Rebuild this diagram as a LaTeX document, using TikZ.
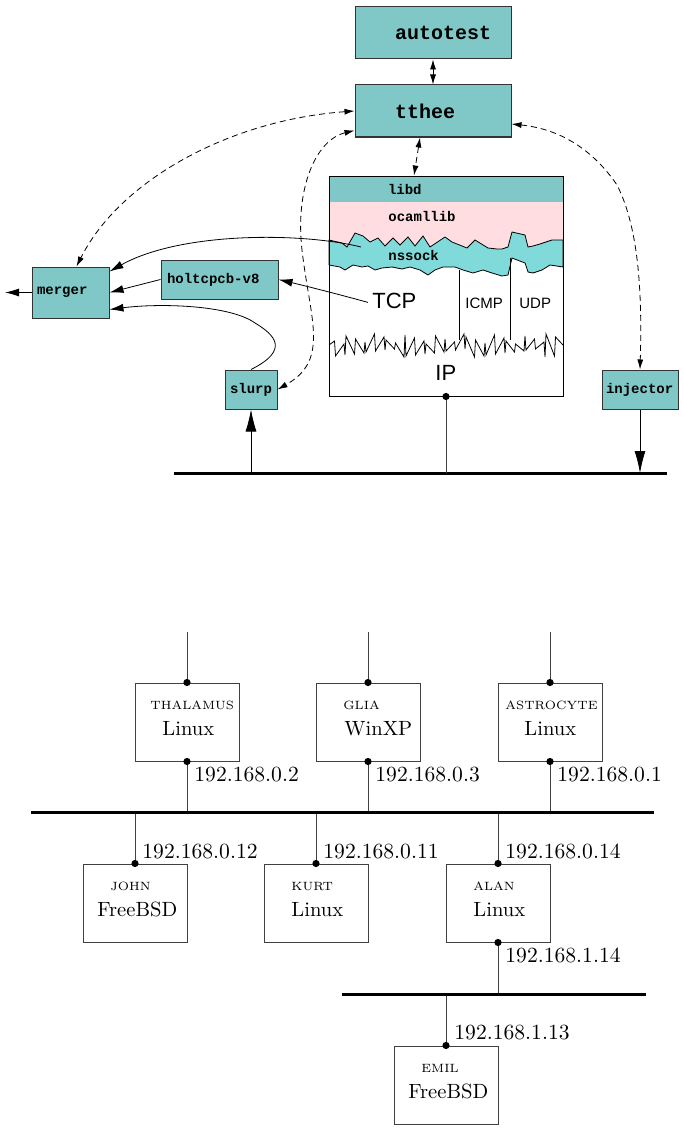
\documentclass[tikz,border=0pt]{standalone}
\usepackage{fontspec}
\setmonofont{Liberation Mono}
\newfontfamily\stackfont{Liberation Sans}
\usepackage{tikz}
\usetikzlibrary{arrows.meta,calc}
\definecolor{boxteal}{HTML}{80C8C8}
\definecolor{nscyan}{HTML}{80DADA}
\definecolor{libpink}{HTML}{FFDDE0}

\begin{document}
\begin{tikzpicture}[x=0.5pt,y=-0.5pt]
\tikzset{
  tool/.style={draw=black!80, fill=boxteal, line width=0.5pt, align=left,
    font=\ttfamily\bfseries\fontsize{7}{8}\selectfont, inner xsep=2.5pt, inner ysep=0pt},
  bigtool/.style={tool, font=\ttfamily\bfseries\fontsize{10}{12}\selectfont,
    inner xsep=20pt, text width=38pt, minimum height=26pt},
  stacktt/.style={anchor=base west, inner sep=0pt, font=\ttfamily\bfseries\fontsize{7}{8}\selectfont},
  stacksans/.style={anchor=base west, inner sep=0pt, font=\stackfont\fontsize{7.5}{9}\selectfont},
  dashlink/.style={dash pattern=on 3pt off 2pt, {Latex[length=5pt,width=3pt]}-{Latex[length=5pt,width=3pt]}},
  flow/.style={-{Latex[length=7pt,width=4pt]}},
  tap/.style={-{Latex[length=11pt,width=5.5pt]}},
  bus/.style={line width=1.5pt},
  host/.style={draw=black!75, line width=0.5pt, minimum width=52pt, minimum height=39pt},
  hname/.style={anchor=base west, inner sep=0pt, font=\fontsize{6}{7}\selectfont},
  hos/.style={anchor=base west, inner sep=0pt, font=\fontsize{10.3}{12}\selectfont},
  addr/.style={anchor=base west, inner sep=0pt, font=\fontsize{10.8}{13}\selectfont},
  wire/.style={draw=black!75, line width=0.5pt}
}
\useasboundingbox (0,0) rectangle (684,1129);

% Tools
\node[bigtool] (autotest) at (433,33) {autotest};
\node[bigtool] (tthee) at (433,111) {tthee};
\node[tool, text width=33.5pt, minimum height=25.5pt] (merger) at (70.5,292.5) {merger};
\node[tool, inner xsep=3pt, text width=52.5pt, minimum height=19.5pt] (holtcpcb) at (219.5,279.5) {holtcpcb-v8};
\node[tool, text width=21pt, minimum height=19.5pt] (slurp) at (251,389.5) {slurp};
\node[tool, inner xsep=2pt, text width=34pt, minimum height=19.5pt] (injector) at (640,389.5) {injector};

% Stack
\node[tool, inner xsep=29.5pt, text width=58pt, minimum height=13pt] (libd) at (446,189) {libd};
\fill[libpink] (329,202) rectangle (563,250);
\filldraw[fill=nscyan, line width=0.4pt] (329,240) -- (342,243) -- (347,247) -- (355,233) -- (363,236)
  -- (370,242) -- (378,238) -- (385,246) -- (393,238) -- (400,245) -- (408,237) -- (415,246)
  -- (423,236) -- (430,247) -- (445,237) -- (452,242) -- (467,248) -- (475,240) -- (488,248)
  -- (497,249) -- (502,249) -- (508,247) -- (512,232) -- (525,235) -- (528,247) -- (533,246)
  -- (540,244) -- (552,240) -- (563,240) -- (563,267) -- (550,265) -- (542,270) -- (533,273)
  -- (528,272) -- (525,263) -- (512,258) -- (508,275) -- (502,276) -- (492,273) -- (483,270)
  -- (473,273) -- (463,270) -- (455,267) -- (443,267) -- (435,270) -- (428,275) -- (420,270)
  -- (410,267) -- (402,269) -- (392,267) -- (382,268) -- (375,270) -- (368,266) -- (362,267)
  -- (353,265) -- (345,270) -- (340,267) -- (329,265) -- cycle;
\draw[line width=0.4pt] (459,270) -- (459,340);
\draw[line width=0.4pt] (510,258) -- (510,340);
% IP boundary, spiky
\draw[line width=0.4pt] (329,345) \foreach \i in {1,...,57}
  { -- ({329+4*\i+1.5*(mod(3*\i,5)-2)}, {mod(\i,2)==1 ? 334+mod(7*\i,11) : 357-mod(5*\i,9)}) }
  -- (563,345);
\node[draw, line width=0.5pt, minimum width=117pt, minimum height=110pt] (stack) at (446,286) {};
\node[stacktt] (ocamllib) at (388,221) {ocamllib};
\node[stacktt] (nssock) at (388,260) {nssock};
\node[stacksans, font=\stackfont\fontsize{11}{13}\selectfont] (tcp) at (372,308) {TCP};
\node[stacksans] (icmp) at (465,308) {ICMP};
\node[stacksans] (udp) at (519,308) {UDP};
\node[stacksans, font=\stackfont\fontsize{11}{13}\selectfont] (iplayer) at (435,380) {IP};

% Control links
\draw[dashlink] (autotest.south) -- (tthee.north);
\draw[dashlink] ($(tthee.south)+(-13,0)$) -- ($(libd.north)+(-32,0)$);
\draw[dashlink] (tthee.west) .. controls (230,120) and (120,180) .. ($(merger.north)+(6,0)$);
\draw[dashlink] ($(tthee.south west)+(0,-7)$) .. controls (315,140) and (295,190) .. (302,250)
  .. controls (310,320) and (330,360) .. (slurp.east);
\draw[dashlink] ($(tthee.east)+(0,13)$) .. controls (570,130) and (600,160) .. (617,185)
  .. controls (640,230) and (642,300) .. (injector.north);

% Data flow
\coordinate (nsout) at (361,247);
\coordinate (mergerout) at (5,292.5);
\draw[flow] (nsout) .. controls (300,232) and (180,232) .. ($(merger.north east)+(0,5)$);
\draw[flow] ($(tcp.west)+(-4,2)$) .. controls (345,296) and (310,287) .. (holtcpcb.east);
\draw[flow] (holtcpcb.west) -- (merger.east);
\draw[flow] (slurp.north) .. controls (290,350) and (275,335) .. (255,323)
  .. controls (230,305) and (160,303) .. ($(merger.east)+(0,17)$);
\draw[flow] (merger.west) -- (mergerout);

% Wire under test
\coordinate (busTw) at (174,473);
\coordinate (busTe) at (667,473);
\draw[bus] (busTw) -- (busTe);
\draw[tap] (slurp.south |- busTw) -- (slurp.south);
\draw[tap] (injector.south) -- (injector.south |- busTw);
\draw[wire] (stack.south) -- (stack.south |- busTw);
\fill (stack.south) circle (1.8pt);

% Hosts
\foreach \n/\cx/\cy/\name/\nx/\os/\ox in {
  thalamus/187/722/THALAMUS/150/Linux/162,
  glia/368/722/GLIA/343/WinXP/344,
  astrocyte/550/722/ASTROCYTE/505/Linux/524,
  john/135/903/JOHN/110/FreeBSD/97,
  kurt/316/903/KURT/291/Linux/291,
  alan/498/903/ALAN/473/Linux/473,
  emil/446/1085/EMIL/421/FreeBSD/408}
{
  \node[host] (\n) at (\cx,\cy) {};
  \node[hname] (\n-name) at (\nx,\cy-13) {\name};
  \node[hos] (\n-os) at (\ox,\cy+13) {\os};
}

% Networks
\coordinate (feedtop) at (0,632);
\coordinate (busAw) at (31,812);
\coordinate (busAe) at (654,812);
\coordinate (busBw) at (342,994);
\coordinate (busBe) at (646,994);
\foreach \n in {thalamus,glia,astrocyte}{
  \draw[wire] (\n.north) -- (\n.north |- feedtop);
  \draw[wire] (\n.south) -- (\n.south |- busAw);
  \fill (\n.north) circle (1.8pt);
  \fill (\n.south) circle (1.8pt);
}
\foreach \n in {john,kurt,alan}{
  \draw[wire] (\n.north) -- (\n.north |- busAw);
  \fill (\n.north) circle (1.8pt);
}
\draw[wire] (alan.south) -- (alan.south |- busBw);
\fill (alan.south) circle (1.8pt);
\draw[wire] (emil.north) -- (emil.north |- busBw);
\fill (emil.north) circle (1.8pt);
\draw[bus] (busAw) -- (busAe);
\draw[bus] (busBw) -- (busBe);

% Addresses
\node[addr] (ip-thalamus) at (194,781) {192.168.0.2};
\node[addr] (ip-glia) at (375,781) {192.168.0.3};
\node[addr] (ip-astrocyte) at (557,781) {192.168.0.1};
\node[addr] (ip-john) at (142,858) {192.168.0.12};
\node[addr] (ip-kurt) at (323,858) {192.168.0.11};
\node[addr] (ip-alan) at (505,858) {192.168.0.14};
\node[addr] (ip-alanb) at (505,962) {192.168.1.14};
\node[addr] (ip-emil) at (454,1039) {192.168.1.13};

\end{tikzpicture}
\end{document}
